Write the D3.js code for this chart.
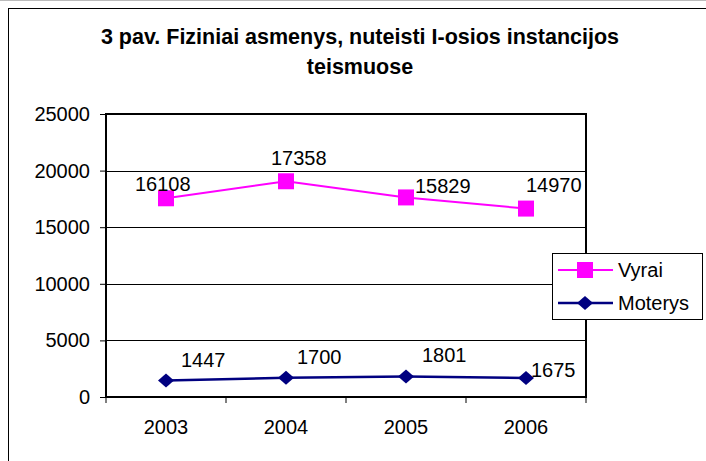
<!DOCTYPE html>
<html>
<head>
<meta charset="utf-8">
<script src="https://cdn.jsdelivr.net/npm/d3@7"></script>
<style>
  body { margin: 0; background: #fff; }
  svg text { font-family: "Liberation Sans", Arial, sans-serif; fill: #000; }
</style>
</head>
<body>
<script>
// data
var years = ["2003", "2004", "2005", "2006"];
var vyrai = [16108, 17358, 15829, 14970];
var moterys = [1447, 1700, 1801, 1675];
var yTicks = [0, 5000, 10000, 15000, 20000, 25000];

// hand placed label nudges (dx, dy from the point), like in the original sheet
var vyraiNudge = [[-31, -7], [-15, -16], [9, -4], [0, -17]];
var moterysNudge = [[15, -14], [11, -14], [16, -15], [5, -1]];

var W = 706, H = 461;
var pLeft = 106, pRight = 586, pTop = 114, pBottom = 397;

var svg = d3.select("body").append("svg")
    .attr("width", W)
    .attr("height", H);

// outer chart frame (runs off the right and bottom edge)
svg.append("line")
    .attr("x1", 0).attr("x2", W).attr("y1", 0.5).attr("y2", 0.5)
    .attr("stroke", "#bbb");
svg.append("rect")
    .attr("x", 8.5).attr("y", 8.5)
    .attr("width", W + 20).attr("height", H + 20)
    .attr("fill", "none").attr("stroke", "#000");

svg.append("text")
    .attr("x", 360).attr("y", 44)
    .attr("text-anchor", "middle")
    .style("font-size", "21.5px").style("font-weight", "bold")
    .text("3 pav. Fiziniai asmenys, nuteisti I-osios instancijos");
svg.append("text")
    .attr("x", 360).attr("y", 74)
    .attr("text-anchor", "middle")
    .style("font-size", "21.5px").style("font-weight", "bold")
    .text("teismuose");

var x = d3.scaleBand().domain(years).range([pLeft, pRight]);
var y = d3.scaleLinear().domain([0, 25000]).range([pBottom, pTop]);

// stacked line: Vyrai sits on top of Moterys
var rows = years.map(function(yr, i) {
  return { year: yr, Moterys: moterys[i], Vyrai: vyrai[i] };
});
var stack = d3.stack().keys(["Moterys", "Vyrai"])(rows);

// gridlines
svg.append("g").selectAll("line")
    .data(yTicks.slice(1))
    .enter().append("line")
    .attr("x1", pLeft).attr("x2", pRight)
    .attr("y1", function(d) { return Math.round(y(d)) + 0.5; })
    .attr("y2", function(d) { return Math.round(y(d)) + 0.5; })
    .attr("stroke", "#000").attr("stroke-width", 1);

// axes
var yAxis = svg.append("g")
    .attr("transform", "translate(" + pLeft + ",0)")
    .call(d3.axisLeft(y).tickValues(yTicks).tickSize(6).tickPadding(10).tickFormat(d3.format("d")));
var xAxis = svg.append("g")
    .attr("transform", "translate(0," + pBottom + ")")
    .call(d3.axisBottom(x).tickSize(0).tickPadding(23));
[yAxis, xAxis].forEach(function(g) {
  g.select(".domain").remove();
  g.selectAll("line").attr("stroke", "#000");
  g.selectAll("text").style("font-size", "20px").style("font-family", "Liberation Sans, Arial, sans-serif").attr("fill", "#000");
});
// category ticks between the bands
svg.append("g").selectAll("line")
    .data(d3.range(years.length + 1))
    .enter().append("line")
    .attr("x1", function(i) { return pLeft + i * x.step(); })
    .attr("x2", function(i) { return pLeft + i * x.step(); })
    .attr("y1", pBottom).attr("y2", pBottom + 6)
    .attr("stroke", "#000");

// plot border
svg.append("rect")
    .attr("x", pLeft).attr("y", pTop)
    .attr("width", pRight - pLeft).attr("height", pBottom - pTop)
    .attr("fill", "none").attr("stroke", "#000").attr("stroke-width", 2);

var cx = function(d) { return x(d.data.year) + x.bandwidth() / 2; };
var line = d3.line().x(cx).y(function(d) { return y(d[1]); });

var diamond = "M0,-7L8,0L0,7L-8,0Z";
var square = "M-8,-8H8V8H-8Z";

var series = [
  { s: stack[1], color: "#ff00ff", width: 2, shape: square, vals: vyrai, nudge: vyraiNudge },
  { s: stack[0], color: "#000080", width: 2.5, shape: diamond, vals: moterys, nudge: moterysNudge }
];

series.forEach(function(sr) {
  svg.append("path")
      .datum(sr.s)
      .attr("d", line)
      .attr("fill", "none")
      .attr("stroke", sr.color)
      .attr("stroke-width", sr.width);
  svg.append("g").selectAll("path")
      .data(sr.s)
      .enter().append("path")
      .attr("d", sr.shape)
      .attr("fill", sr.color)
      .attr("transform", function(d) { return "translate(" + cx(d) + "," + y(d[1]) + ")"; });
  svg.append("g").selectAll("text")
      .data(sr.s)
      .enter().append("text")
      .attr("x", function(d, i) { return cx(d) + sr.nudge[i][0]; })
      .attr("y", function(d, i) { return y(d[1]) + sr.nudge[i][1]; })
      .style("font-size", "20px")
      .text(function(d, i) { return sr.vals[i]; });
});

// legend
var lg = svg.append("g");
lg.append("rect")
    .attr("x", 552.5).attr("y", 253.5)
    .attr("width", 150).attr("height", 66)
    .attr("fill", "#fff").attr("stroke", "#000");
var legItems = [
  { name: "Vyrai", color: "#ff00ff", width: 2, shape: square },
  { name: "Moterys", color: "#000080", width: 2.5, shape: diamond }
];
legItems.forEach(function(it, i) {
  var ly = 270 + i * 33;
  lg.append("line")
      .attr("x1", 558).attr("x2", 613).attr("y1", ly).attr("y2", ly)
      .attr("stroke", it.color).attr("stroke-width", it.width);
  lg.append("path")
      .attr("d", it.shape)
      .attr("fill", it.color)
      .attr("transform", "translate(585," + ly + ")");
  lg.append("text")
      .attr("x", 618).attr("y", ly + 7)
      .style("font-size", "20px")
      .text(it.name);
});
</script>
</body>
</html>
